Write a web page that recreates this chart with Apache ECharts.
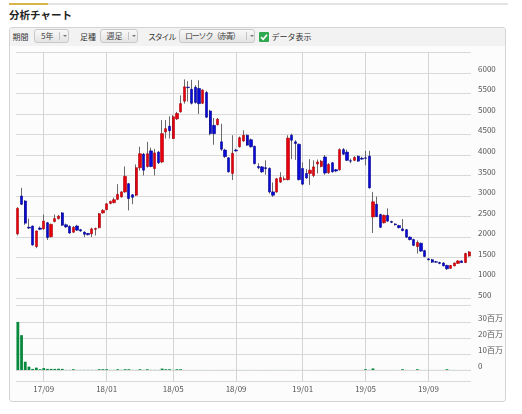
<!DOCTYPE html>
<html>
<head>
<meta charset="utf-8">
<script src="https://cdn.jsdelivr.net/npm/echarts@6/dist/echarts.min.js"></script>
<style>
html,body{margin:0;padding:0;background:#fff;width:522px;height:414px;overflow:hidden;font-family:"Noto Sans CJK JP",sans-serif;}
.abs{position:absolute;}
#goldbar{left:9px;top:3px;width:39px;height:2px;background:#d8b54c;}
#grayline{left:48px;top:3px;width:460px;height:2px;background:#e3e3e3;}
#title{left:9px;top:8px;font-size:10.5px;line-height:14px;font-weight:bold;color:#222;}
#panel{left:9px;top:27px;width:497px;height:375px;border:1px solid #d4d4d4;border-radius:3px;background:#fcfcfc;box-sizing:border-box;}
#toolbar{left:10px;top:28px;width:495px;height:18px;background:#f2f2f2;border-radius:2px 2px 0 0;}
.lbl{font-size:8px;line-height:14px;top:29.5px;color:#333;white-space:nowrap;}
.dd{top:29px;height:14px;border:1px solid #c9c9c9;border-radius:3px;background:linear-gradient(#f8f8f8,#e4e4e4);box-sizing:border-box;}
.dd .t{position:absolute;top:0;font-size:8px;line-height:12px;color:#444;white-space:nowrap;}
.dd .s{position:absolute;top:2px;width:1px;height:8px;background:#c4c4c4;}
.dd .a{position:absolute;top:5px;width:0;height:0;border-left:2px solid transparent;border-right:2px solid transparent;border-top:2.5px solid #777;}
#chk{left:259px;top:32px;width:10px;height:10px;background:#2fa84f;border-radius:1px;}
#chk svg{display:block;}
#chart{position:absolute;left:0;top:0;width:522px;height:414px;z-index:5;}
</style>
</head>
<body>
<div id="goldbar" class="abs"></div>
<div id="grayline" class="abs"></div>
<div id="title" class="abs">分析チャート</div>
<div id="panel" class="abs"></div>
<div id="toolbar" class="abs"></div>
<div class="abs lbl" style="left:12.5px;">期間</div>
<div class="abs dd" style="left:34px;width:35px;"><span class="t" style="left:6px;">5年</span><span class="s" style="left:24px;"></span><span class="a" style="left:27.5px;"></span></div>
<div class="abs lbl" style="left:80px;">足種</div>
<div class="abs dd" style="left:100px;width:38px;"><span class="t" style="left:5.5px;">週足</span><span class="s" style="left:27px;"></span><span class="a" style="left:30.5px;"></span></div>
<div class="abs lbl" style="left:148px;letter-spacing:-1.2px;">スタイル</div>
<div class="abs dd" style="left:179px;width:76px;"><span class="t" style="left:5px;letter-spacing:-1.2px;">ローソク（赤青）</span><span class="s" style="left:66px;"></span><span class="a" style="left:69.5px;"></span></div>
<div id="chk" class="abs"><svg width="10" height="10" viewBox="0 0 10 10"><path d="M2 5.2 L4.2 7.3 L8 2.8" stroke="#ffffff" stroke-width="1.7" fill="none"/></svg></div>
<div class="abs lbl" style="left:271.5px;">データ表示</div>
<div id="chart"></div>
<script>
const categories = [
'2017/07/17','2017/07/24','2017/07/31','2017/08/07','2017/08/14','2017/08/21','2017/08/28','2017/09/04','2017/09/11','2017/09/18','2017/09/25','2017/10/02','2017/10/09','2017/10/16','2017/10/23','2017/10/30','2017/11/06','2017/11/13','2017/11/20','2017/11/27','2017/12/04','2017/12/11','2017/12/18','2017/12/25',
'2018/01/01','2018/01/08','2018/01/15','2018/01/22','2018/01/29','2018/02/05','2018/02/12','2018/02/19','2018/02/26','2018/03/05','2018/03/12','2018/03/19','2018/03/26','2018/04/02','2018/04/09','2018/04/16','2018/04/23','2018/04/30','2018/05/07','2018/05/14','2018/05/21','2018/05/28','2018/06/04','2018/06/11','2018/06/18','2018/06/25','2018/07/02','2018/07/09','2018/07/16','2018/07/23','2018/07/30','2018/08/06','2018/08/13','2018/08/20','2018/08/27','2018/09/03','2018/09/10','2018/09/17','2018/09/24','2018/10/01','2018/10/08','2018/10/15','2018/10/22','2018/10/29','2018/11/05','2018/11/12','2018/11/19','2018/11/26','2018/12/03','2018/12/10','2018/12/17','2018/12/24','2018/12/31',
'2019/01/07','2019/01/14','2019/01/21','2019/01/28','2019/02/04','2019/02/11','2019/02/18','2019/02/25','2019/03/04','2019/03/11','2019/03/18','2019/03/25','2019/04/01','2019/04/08','2019/04/15','2019/04/22','2019/04/29','2019/05/06','2019/05/13','2019/05/20','2019/05/27','2019/06/03','2019/06/10','2019/06/17','2019/06/24','2019/07/01','2019/07/08','2019/07/15','2019/07/22','2019/07/29','2019/08/05','2019/08/12','2019/08/19','2019/08/26','2019/09/02','2019/09/09','2019/09/16','2019/09/23','2019/09/30','2019/10/07','2019/10/14','2019/10/21','2019/10/28','2019/11/04','2019/11/11','2019/11/18'
];
const opens = [2080,3000,2880,2240,2270,1770,2220,2200,2350,2010, 2380,2450,2590,2300,2260,2120,2270,2180,2120,2090, 2080,2190,2230,2590,2670,2820,2840,2920,2980,3100, 3300,3030,3020,3690,4020,3720,4100,3670,4070,3830, 4560,4700,4400,4880,5050,5310,5650,5600,5650,5620, 5260,5520,5070,4720,4740,4320,4120,3930,3550,4120, 4200,4340,4480,4370,4210,3720,3710,3690,3670,3100, 3100,3340,3400,3400,4480,4320,4260,3670,3550,3550, 3500,3780,3720,3950,3570,3810,3640,3640,4130,4070, 3860,3870,3970,3920,3930,3970,2490,2800,2550,2350, 2530,2380,2320,2280,2200,2180,2000,1940,1770,1850, 1670,1470,1450,1400,1380,1370,1310,1240,1300,1360, 1420,1380,1540];
const closes = [2700,2800,2340,2220,1810,2150,2190,2390,1990,2310, 2450,2510,2290,2250,2100,2240,2170,2150,2070,2060, 2200,2210,2570,2650,2810,2870,2910,3040,3100,3480, 2940,2970,3690,4030,3630,4030,3720,4050,3810,4520, 4640,4590,4930,5010,5250,5660,5640,5260,5280,5250, 5580,4920,4520,4520,4870,4140,3960,3590,4040,4100, 4420,4480,4240,4200,3790,3690,3590,3670,3100,3020, 3420,3450,3420,4410,4360,4280,3400,3290,3440,3630, 3710,3830,3850,3560,3770,3590,3610,4130,4020,3870, 3850,3940,3850,3900,3920,3200,2860,2500,2240,2530, 2390,2360,2300,2230,2160,2000,1940,1800,1870,1660, 1530,1450,1390,1390,1360,1300,1230,1310,1370,1420, 1380,1600,1640];
const lows = [2040,2780,2300,2200,1790,1730,2170,2180,1930,1990, 2360,2430,2270,2220,2080,2100,2150,2130,2000,2040, 2000,2040,2210,2570,2650,2800,2820,2900,2960,3080, 2650,2800,3000,3620,3500,3690,3700,3500,3780,3800, 4400,4400,4390,4850,5030,5250,5300,5230,5250,5000, 5240,4900,4480,4250,4720,4100,3930,3570,3390,4080, 4180,4320,4220,4180,3770,3650,3560,3520,3060,2980, 3080,3320,3380,3380,3900,3880,3380,3260,3420,3270, 3460,3550,3700,3520,3540,3570,3580,3620,4000,3850, 3800,3850,3830,3880,3750,3180,2100,2490,2220,2330, 2370,2340,2280,2210,2140,1980,1920,1780,1600,1640, 1510,1430,1370,1370,1340,1290,1200,1230,1290,1350, 1370,1370,1520];
const highs = [2730,3200,2900,2450,2280,2160,2260,2550,2370,2330, 2550,2540,2610,2330,2290,2270,2300,2200,2140,2100, 2230,2230,2590,2680,2830,2890,2960,3290,3120,3720, 3320,3050,3770,4200,4050,4320,4180,4150,4100,4850, 4850,4940,4970,5050,5450,5840,5800,5830,5700,5820, 5600,5560,5100,4900,4900,4760,4150,3950,4480,4150, 4450,4600,4500,4400,4230,3800,3730,3870,3700,3330, 3440,3580,3480,4480,4520,4360,4280,3820,3660,3900, 3870,3890,3880,4000,3800,3830,3660,4160,4170,4130, 3910,3970,3990,3960,4100,4100,3100,2990,2570,2550, 2700,2400,2340,2300,2440,2200,2020,1960,1920,1870, 1690,1490,1470,1420,1400,1390,1330,1320,1380,1440, 1430,1620,1660];
// volume in 百万 (millions of shares)
const volumes = [30.2,21.9,5.2,2.1,0.7,1.5,0.5,1.2,0.7,0.7,
 0.7,0.8,0.7,0.1,0.1,0.5,0.1,0.1,0.1,0.1,
 0.1,0.1,0.5,0.5,0.5,0.1,0.1,0.5,0.1,0.5,
 0.5,0.1,0.1,0.5,0.1,0.5,0.1,0.1,0.1,0.9,
 0.5,0.5,0.1,0.5,0.5,0.05,0.05,0.05,0.05,0.05,
 0.05,0.05,0.05,0.05,0.05,0.05,0.05,0.05,0.05,0.05,
 0.05,0.05,0.05,0.05,0.05,0.05,0.05,0.05,0.05,0.05,
 0.05,0.05,0.05,0.05,0.05,0.05,0.05,0.05,0.05,0.05,
 0.05,0.05,0.05,0.05,0.05,0.05,0.05,0.05,0.05,0.05,
 0.05,0.05,0.05,0.05,0.5,0.1,1.0,0.05,0.05,0.05,
 0.05,0.05,0.05,0.05,0.5,0.05,0.05,0.05,0.5,0.05,
 0.05,0.05,0.05,0.05,0.05,0.05,0.5,0.05,0.05,0.05,
 0.05,0.05,0.05];
const tickDates = ['2017/09/04','2018/01/01','2018/05/07','2018/09/03','2019/01/07','2019/05/06','2019/09/02'];
const tickLabels = ['17/09','18/01','18/05','18/09','19/01','19/05','19/09'];
const priceTicks = [500,1000,1500,2000,2500,3000,3500,4000,4500,5000,5500,6000];
const volumeTicks = [0,10,20,30];

const PRICE_MIN = 330, PRICE_MAX = 6500, VOL_MIN = -6.9, VOL_MAX = 40.4;
const font = '"Noto Sans CJK JP", "Noto Sans", sans-serif';
const ohlc = opens.map((o, i) => [o, closes[i], lows[i], highs[i]]);
const bodies = opens.map((o, i) => [o, closes[i], Math.min(o, closes[i]), Math.max(o, closes[i])]);
const isTick = (idx, val) => tickDates.indexOf(val) >= 0;
const vLine = {show: true, interval: isTick, alignWithLabel: true, lineStyle: {color: '#d4d4d4', width: 1}};
const hLine = {show: true, lineStyle: {color: '#d9d9d9', width: 1}};

const chart = echarts.init(document.getElementById('chart'), null, {renderer: 'canvas'});
chart.setOption({
  animation: false,
  backgroundColor: 'transparent',
  grid: [
    {left: 16, top: 52.3, width: 455, height: 253.4},
    {left: 16, top: 305.7, width: 455, height: 75.3}
  ],
  xAxis: [
    {type: 'category', gridIndex: 0, data: categories, boundaryGap: true,
     axisLine: {show: false}, axisTick: {show: false}, axisLabel: {show: false}, splitLine: vLine},
    {type: 'category', gridIndex: 1, data: categories, boundaryGap: true,
     axisLine: {show: false}, axisTick: {show: false},
     axisLabel: {show: true, interval: isTick, formatter: v => tickLabels[tickDates.indexOf(v)],
                 color: '#555', fontSize: 8, margin: 4, fontFamily: font},
     splitLine: vLine}
  ],
  yAxis: [
    {type: 'value', gridIndex: 0, position: 'right', min: PRICE_MIN, max: PRICE_MAX,
     axisLine: {show: false},
     axisTick: {show: false, customValues: [PRICE_MIN].concat(priceTicks, [PRICE_MAX])},
     axisLabel: {customValues: priceTicks, formatter: v => String(v), color: '#555', fontSize: 8, margin: 7, verticalAlign: 'bottom', fontFamily: font},
     splitLine: hLine},
    {type: 'value', gridIndex: 1, position: 'right', min: VOL_MIN, max: VOL_MAX,
     axisLine: {show: false},
     axisTick: {show: false, customValues: [VOL_MIN].concat(volumeTicks)},
     axisLabel: {customValues: volumeTicks, formatter: v => v === 0 ? '0' : v + '百万',
                 color: '#555', fontSize: 8, margin: 7, verticalAlign: 'bottom', fontFamily: font},
     splitLine: hLine}
  ],
  series: [
    {type: 'candlestick', xAxisIndex: 0, yAxisIndex: 0, data: ohlc, barWidth: 1,
     itemStyle: {color: '#6a6a6a', color0: '#6a6a6a', borderColor: '#6a6a6a', borderColor0: '#6a6a6a', borderWidth: 1}},
    {type: 'candlestick', xAxisIndex: 0, yAxisIndex: 0, data: bodies, barWidth: 2.8,
     itemStyle: {color: '#e8000c', color0: '#0a0ad8', borderColor: '#a80008', borderColor0: '#00008c', borderWidth: 0.6}},
    {type: 'bar', xAxisIndex: 1, yAxisIndex: 1, data: volumes, barWidth: 2.8,
     itemStyle: {color: '#088a3e'}}
  ]
});
</script>
</body>
</html>
